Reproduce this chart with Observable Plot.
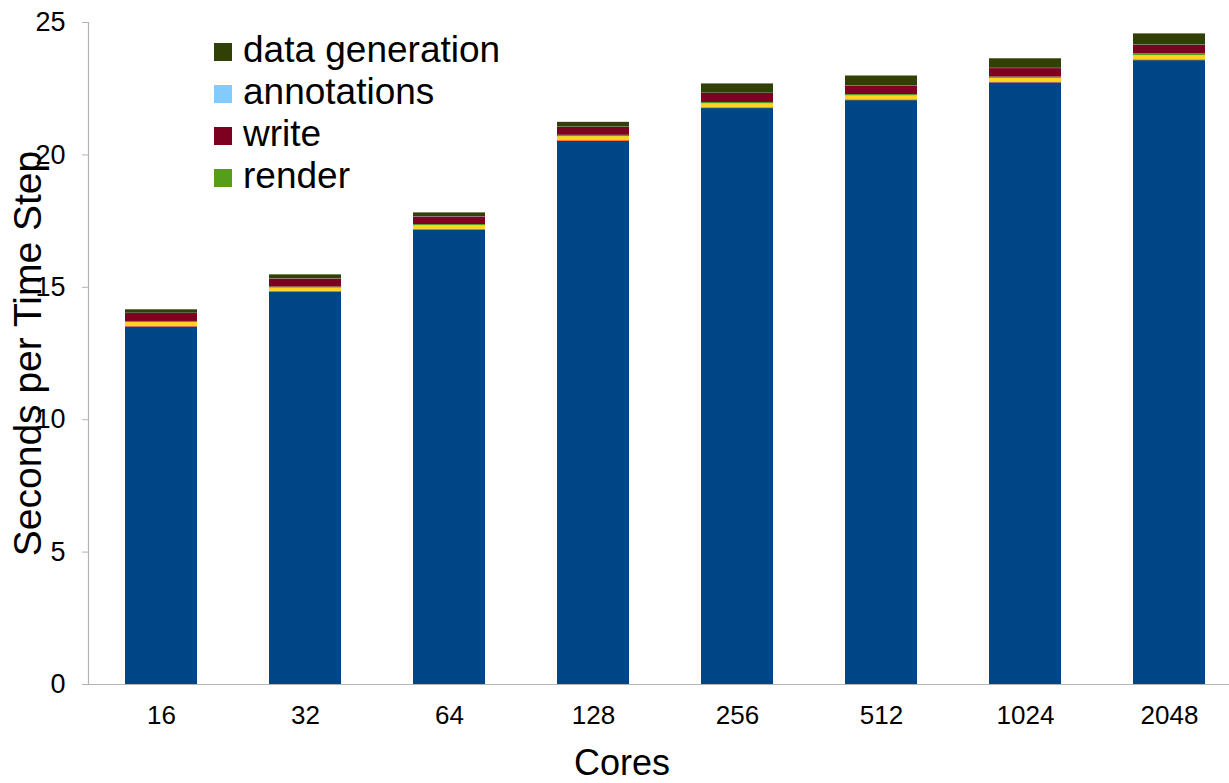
<!DOCTYPE html>
<html>
<head>
<meta charset="utf-8">
<script src="https://cdn.jsdelivr.net/npm/d3@7"></script>
<script src="https://cdn.jsdelivr.net/npm/@observablehq/plot@0.6"></script>
<style>
  html, body { margin: 0; padding: 0; background: #fff; overflow: hidden; }
  #wrap { position: relative; width: 1229px; height: 783px; font-family: "Liberation Sans", Arial, sans-serif; }
  #legend { position: absolute; left: 214px; top: 29px; font-size: 37px; color: #000; }
  .row { height: 42px; line-height: 42px; display: flex; align-items: center; white-space: nowrap; }
  .sw { width: 18px; height: 18px; margin-right: 11px; margin-top: 4px; display: inline-block; }
</style>
</head>
<body>
<div id="wrap"></div>
<script>
// ---- data ----
const cores = ["16", "32", "64", "128", "256", "512", "1024", "2048"];
const series1 = [13.50, 14.82, 17.16, 20.51, 21.75, 22.05, 22.72, 23.56];
const series2 = [0.03, 0.03, 0.03, 0.03, 0.03, 0.03, 0.03, 0.03];
const series3 = [0.14, 0.12, 0.14, 0.15, 0.15, 0.15, 0.14, 0.16];
const render = [0.04, 0.04, 0.04, 0.05, 0.05, 0.05, 0.05, 0.07];
const write = [0.30, 0.30, 0.29, 0.30, 0.34, 0.33, 0.32, 0.32];
const annotations = [0.01, 0.01, 0.01, 0.01, 0.01, 0.01, 0.01, 0.01];
const dataGeneration = [0.13, 0.15, 0.14, 0.18, 0.35, 0.36, 0.36, 0.42];
const yTicks = [0, 5, 10, 15, 20, 25];

const seriesNames = ["series1", "series2", "series3", "render", "write", "annotations", "data generation"];
const seriesValues = [series1, series2, series3, render, write, annotations, dataGeneration];
const legendNames = ["data generation", "annotations", "write", "render"];

// ---- styles ----
const colors = ["#004586", "#ff420e", "#ffd320", "#579d1c", "#7e0021", "#83caff", "#314004"];

const rows = [];
seriesNames.forEach((s, i) => {
  cores.forEach((c, j) => rows.push({cores: c, series: s, value: seriesValues[i][j]}));
});

const chart = Plot.plot({
  width: 1229,
  height: 783,
  marginLeft: 88,
  marginTop: 22,
  marginBottom: 99,
  marginRight: 0,
  style: {fontFamily: "'Liberation Sans', Arial, sans-serif", color: "#000", background: "#fff"},
  x: {domain: cores, range: [88, 1242], paddingInner: 0.5, paddingOuter: 0.25},
  y: {domain: [0, 25]},
  color: {domain: seriesNames, range: colors},
  marks: [
    Plot.gridY(yTicks, {stroke: "#c8c8c8", strokeOpacity: 1, x1: 82, x2: 1229}),
    Plot.barY(rows, {x: "cores", y: "value", fill: "series", order: seriesNames}),
    Plot.ruleY([0], {stroke: "#b3b3b3", strokeWidth: 1.2}),
    Plot.frame({anchor: "left", stroke: "#b3b3b3", strokeWidth: 1.2}),
    Plot.axisY(yTicks, {tickSize: 6, tickPadding: 17, fontSize: 27, label: null, stroke: "#b3b3b3"}),
    Plot.axisX({tickSize: 0, tickPadding: 21, fontSize: 26, label: null}),
    Plot.text(["Seconds per Time Step"], {frameAnchor: "left", rotate: -90, dx: -60, textAnchor: "middle", lineAnchor: "middle", fontSize: 39, fill: "#000"}),
    Plot.text(["Cores"], {frameAnchor: "bottom", dx: -37, dy: 79, fontSize: 36, fill: "#000", lineAnchor: "middle"})
  ]
});

const wrap = document.getElementById("wrap");
wrap.appendChild(chart);

const legend = document.createElement("div");
legend.id = "legend";
legendNames.forEach(n => {
  const r = document.createElement("div");
  r.className = "row";
  const sw = document.createElement("span");
  sw.className = "sw";
  sw.style.background = colors[seriesNames.indexOf(n)];
  r.appendChild(sw);
  r.appendChild(document.createTextNode(n));
  legend.appendChild(r);
});
wrap.appendChild(legend);
</script>
</body>
</html>
